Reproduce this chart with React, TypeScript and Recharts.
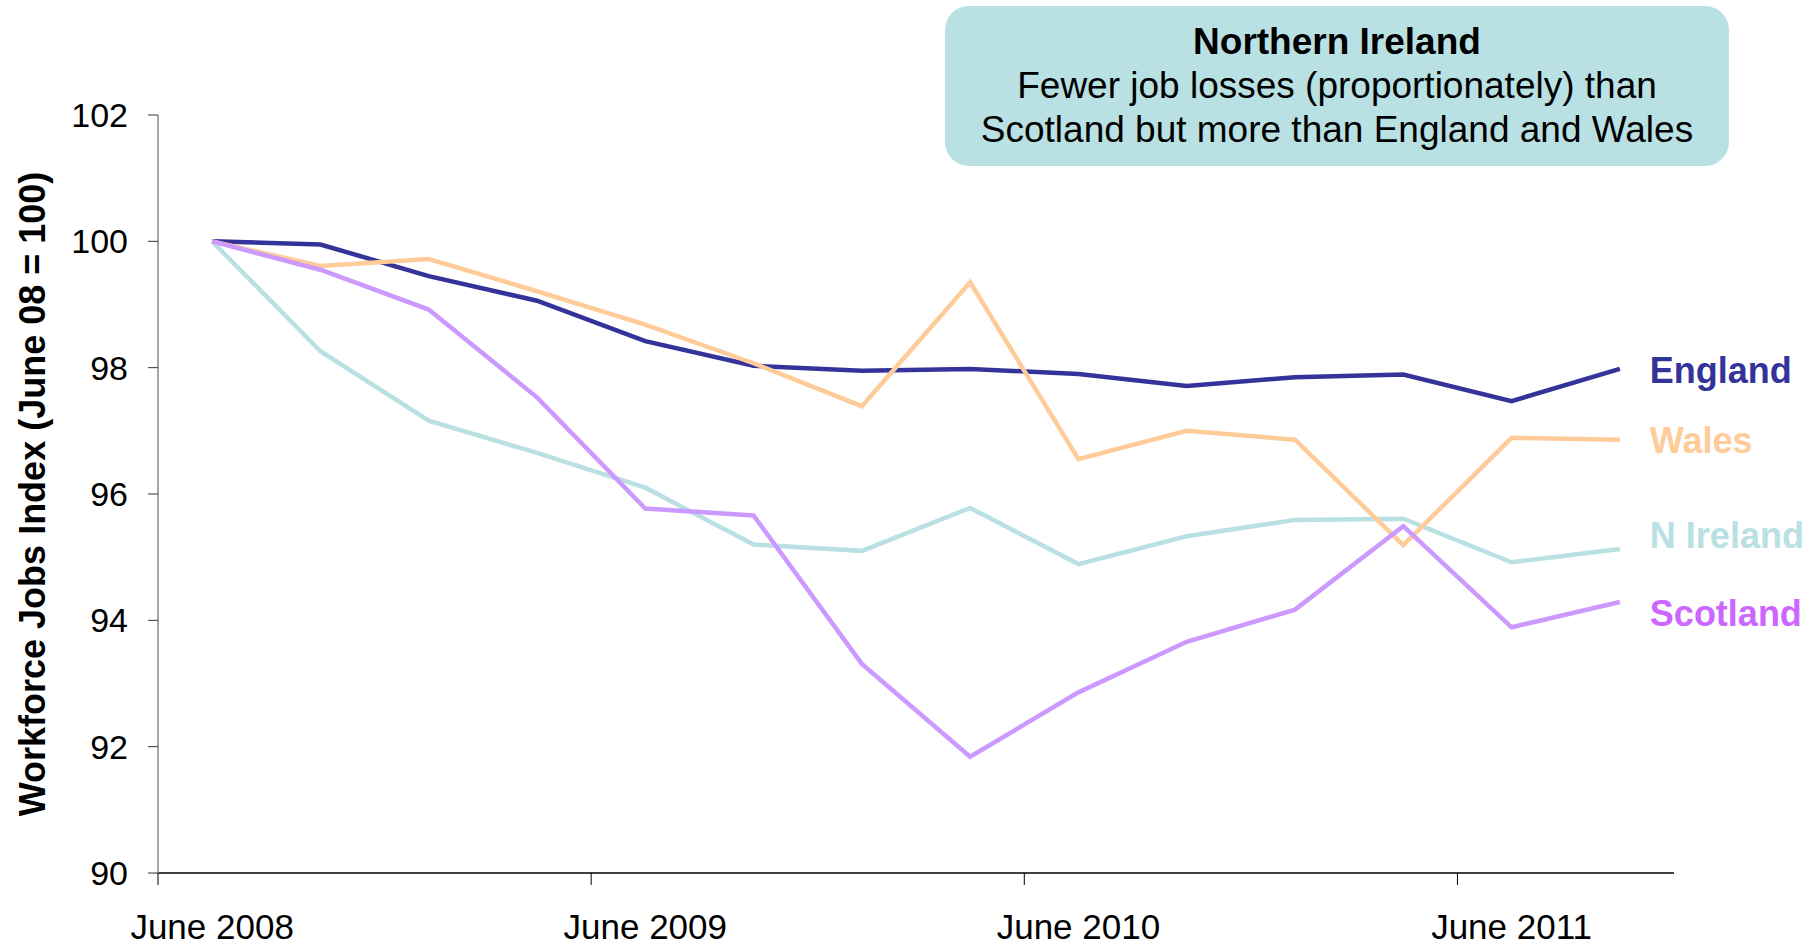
import { LineChart, Line, XAxis, YAxis, LabelList, Label } from 'recharts';

const quarters = [
  'Jun 2008', 'Sep 2008', 'Dec 2008', 'Mar 2009',
  'Jun 2009', 'Sep 2009', 'Dec 2009', 'Mar 2010',
  'Jun 2010', 'Sep 2010', 'Dec 2010', 'Mar 2011',
  'Jun 2011', 'Sep 2011',
];

const england = [100, 99.95, 99.45, 99.06, 98.42, 98.03, 97.95, 97.98, 97.9, 97.71, 97.85, 97.89, 97.47, 97.98];
const wales = [100, 99.61, 99.72, 99.21, 98.68, 98.07, 97.39, 99.35, 96.55, 97.0, 96.86, 95.19, 96.89, 96.86];
const nIreland = [100, 98.26, 97.16, 96.65, 96.1, 95.2, 95.1, 95.78, 94.89, 95.33, 95.59, 95.61, 94.92, 95.13];
const scotland = [100, 99.55, 98.92, 97.53, 95.77, 95.66, 93.31, 91.84, 92.86, 93.66, 94.17, 95.49, 93.89, 94.29];

const labelTicks = [0, 4, 8, 12];
const tickLabels = ['June 2008', 'June 2009', 'June 2010', 'June 2011'];
const boundaryTicks = [-0.5, 3.5, 7.5, 11.5];
const yTicks = [90, 92, 94, 96, 98, 100, 102];

const data = quarters.map((q, i) => ({
  idx: i,
  quarter: q,
  england: england[i],
  wales: wales[i],
  nIreland: nIreland[i],
  scotland: scotland[i],
}));

const series = [
  { key: 'england', name: 'England', stroke: '#333399', text: '#333399', dy: 2 },
  { key: 'nIreland', name: 'N Ireland', stroke: '#B9E0E3', text: '#B9E0E3', dy: -13 },
  { key: 'wales', name: 'Wales', stroke: '#FFCC99', text: '#FFCC99', dy: 1 },
  { key: 'scotland', name: 'Scotland', stroke: '#CC99FF', text: '#CC66FF', dy: 11 },
];

const FONT = '"Liberation Sans", Arial, sans-serif';

// tick mark only, at the boundaries between quarters
const BoundaryTick = (p: any) => (
  <line x1={p.x} x2={p.x} y1={p.y} y2={p.y + 12} stroke="#000" strokeWidth={1} />
);

export default function App() {
  const last = quarters.length - 1;
  return (
    <div style={{ position: 'relative', width: 1820, height: 944, fontFamily: FONT, background: '#fff' }}>
      <style>{'body{margin:0}'}</style>
      <LineChart
        width={1820}
        height={944}
        data={data}
        margin={{ top: 115, right: 146, bottom: 0, left: 0 }}
      >
        <XAxis
          type="number"
          dataKey="idx"
          domain={[-0.5, 13.5]}
          allowDataOverflow
          ticks={boundaryTicks}
          interval={0}
          height={12}
          axisLine={{ stroke: '#000', strokeWidth: 1.5 }}
          tickLine={false}
          tickSize={0}
          tickMargin={0}
          tick={<BoundaryTick />}
        />
        <XAxis
          xAxisId="labels"
          type="number"
          dataKey="idx"
          domain={[-0.5, 13.5]}
          allowDataOverflow
          ticks={labelTicks}
          interval={0}
          tickFormatter={(v: number) => tickLabels[labelTicks.indexOf(v)]}
          height={59}
          axisLine={false}
          tickLine={false}
          tickSize={0}
          tickMargin={29}
          tick={{ fill: '#000', fontSize: 35, fontFamily: FONT }}
        />
        <YAxis
          domain={[90, 102]}
          ticks={yTicks}
          width={158}
          tickSize={10}
          tickMargin={20}
          axisLine={{ stroke: '#888', strokeWidth: 1.5 }}
          tickLine={{ stroke: '#333' }}
          tick={{ fill: '#000', fontSize: 34, fontFamily: FONT }}
        >
          <Label
            content={(p: any) => {
              const vb = p.viewBox || { x: 0, y: 115, width: 158, height: 757 };
              const cx = vb.x + 32;
              const cy = vb.y + vb.height / 2;
              return (
                <text
                  x={cx}
                  y={cy}
                  transform={`rotate(-90 ${cx} ${cy})`}
                  textAnchor="middle"
                  dominantBaseline="central"
                  fontSize={36}
                  fontWeight="bold"
                  fontFamily={FONT}
                  fill="#000"
                >
                  Workforce Jobs Index (June 08 = 100)
                </text>
              );
            }}
          />
        </YAxis>
        {series.map((s) => (
          <Line
            key={s.key}
            dataKey={s.key}
            stroke={s.stroke}
            strokeWidth={4.5}
            dot={false}
            activeDot={false}
            isAnimationActive={false}
            strokeLinejoin="miter"
          >
            <LabelList
              dataKey={s.key}
              content={(p: any) =>
                p.index === last ? (
                  <text
                    x={p.x + 30}
                    y={p.y + s.dy}
                    dominantBaseline="central"
                    fontSize={36}
                    fontWeight="bold"
                    fontFamily={FONT}
                    fill={s.text}
                  >
                    {s.name}
                  </text>
                ) : null
              }
            />
          </Line>
        ))}
      </LineChart>
      <div
        style={{
          position: 'absolute',
          left: 945,
          top: 6,
          width: 784,
          height: 160,
          boxSizing: 'border-box',
          borderRadius: 24,
          background: '#B9E0E3',
          textAlign: 'center',
          paddingTop: 14,
          fontSize: 37,
          lineHeight: '44px',
          color: '#000',
        }}
      >
        <div style={{ fontWeight: 'bold' }}>Northern Ireland</div>
        <div>Fewer job losses (proportionately) than</div>
        <div>Scotland but more than England and Wales</div>
      </div>
    </div>
  );
}
